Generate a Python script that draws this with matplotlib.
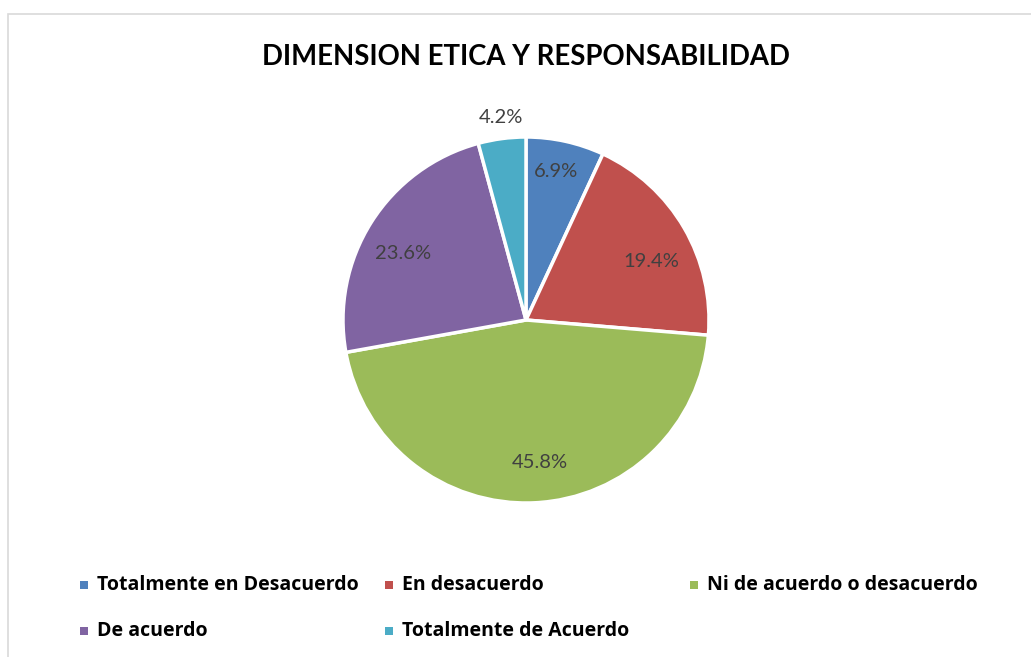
import numpy as np
import matplotlib
matplotlib.use("Agg")
import matplotlib.pyplot as plt
from matplotlib.patches import Rectangle

categories = ["Totalmente en Desacuerdo", "En desacuerdo", "Ni de acuerdo o desacuerdo",
              "De acuerdo", "Totalmente de Acuerdo"]
values = [6.9, 19.4, 45.8, 23.6, 4.2]
colors = ["#4F81BD", "#C0504D", "#9BBB59", "#8064A2", "#4BACC6"]
title = "DIMENSION ETICA Y RESPONSABILIDAD"

# label placement (layout only): radial factor and angle offset in degrees
label_r = [0.83, 0.755, 0.78, 0.765, 1.115]
label_dang = [1.0, -5.0, 2.7, 4.0, -0.5]

W, H = 1031, 657
fig = plt.figure(figsize=(W / 100, H / 100), dpi=100)
plt.rcParams['font.family'] = ['Lato', 'DejaVu Sans']

def fx(px):
    return px / W

def fy(py):
    return 1 - py / H

# outer border
fig.add_artist(Rectangle((fx(7.5), fy(H + 20)), fx(W + 20), (H + 20 - 13.5) / H,
                         transform=fig.transFigure, fill=False,
                         edgecolor="#d9d9d9", linewidth=1.2))

cx, cy, r = 526, 320, 183
ax = fig.add_axes([fx(cx - r), fy(cy + r), 2 * r / W, 2 * r / H])
wedges, texts, autotexts = ax.pie(values, colors=colors, startangle=90, counterclock=False,
                                  autopct=lambda p: f"{p:.1f}%", pctdistance=0.78,
                                  wedgeprops=dict(edgecolor="white", linewidth=2.5),
                                  textprops=dict(color="#404040", fontsize=14.5))
for t, v, w, lr, da in zip(autotexts, values, wedges, label_r, label_dang):
    t.set_text(f"{v:.1f}%")
    ang = np.deg2rad((w.theta1 + w.theta2) / 2 + da)
    t.set_position((lr * np.cos(ang), lr * np.sin(ang)))
ax.set_xlim(-1, 1)
ax.set_ylim(-1, 1)
ax.set_aspect("equal")
ax.axis("off")

fig.text(fx(526), fy(57), title, ha="center", va="center", fontsize=19.8, fontweight="bold",
         color="black")

# legend
for i, (lab, col) in enumerate(zip(categories, colors)):
    row, c = divmod(i, 3)
    x = 80 + 305 * c
    y = 585 + 46 * row
    fig.add_artist(Rectangle((fx(x), fy(y + 3.5)), fx(7.5), 7.5 / H,
                             transform=fig.transFigure, facecolor=col, edgecolor="none"))
    fig.text(fx(x + 17), fy(y), lab, ha="left", va="center", fontsize=14,
             fontweight="bold", color="black", family=["Open Sans", "DejaVu Sans"])

fig.savefig("out.png", dpi=100)
